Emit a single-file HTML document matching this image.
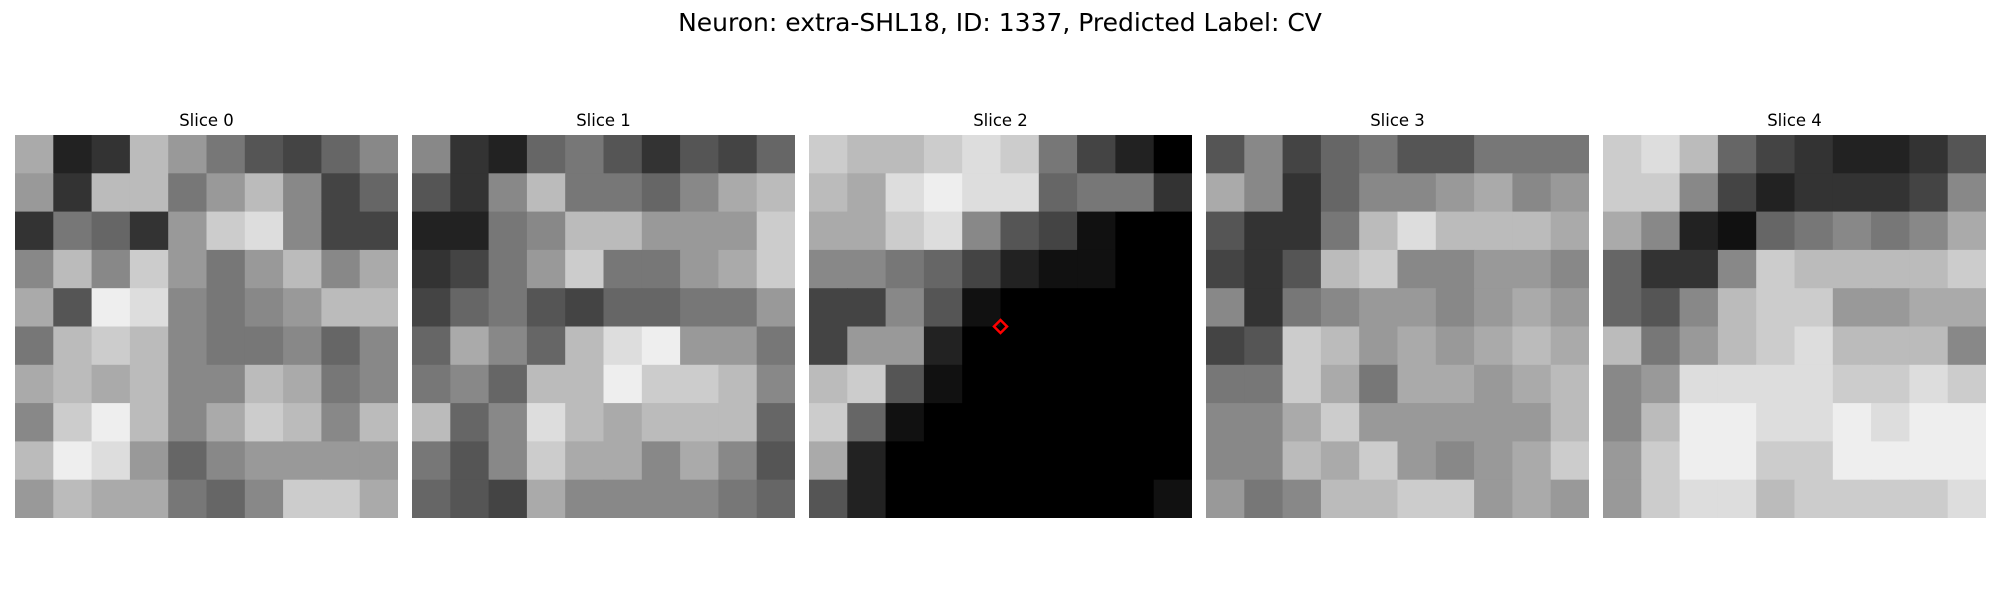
<!DOCTYPE html>
<html><head><meta charset="utf-8"><style>
html,body{margin:0;padding:0;background:#fff;width:2000px;height:600px;overflow:hidden}
svg{display:block;font-family:"DejaVu Sans","Liberation Sans",sans-serif}
</style></head><body>
<svg id="fig" width="2000" height="600">
<text x="1000" y="31" text-anchor="middle" font-size="25" fill="#000">Neuron: extra-SHL18, ID: 1337, Predicted Label: CV</text>
</svg>
<script>
const sliceNames = ["Slice 0","Slice 1","Slice 2","Slice 3","Slice 4"];
const slice0 = ["a23b975468","93bb79b846","37639cd844","8b8c979b8a","a5ed8789bb","7bcb877868","abab88ba78","8ceb8acb8b","bed9689999","9baa768cca"];
const slice1 = ["8326753546","538b7768ab","2278bb999c","3479c779ac","4675466779","6a86bde997","786bbeccb8","b68dbabbb6","758caa8a85","654a888876"];
const slice2 = ["cbbcdc7420","badedd6773","aacd854100","8876421100","4485100000","4992000000","bc51000000","c610000000","a200000000","5200000001"];
const slice3 = ["5846755777","a836889a89","5337bdbbba","435bc88998","83789989a9","45cb9a9aba","77ca7aa9ab","88ac99999b","88bac989ac","978bbcc9a9"];
const slice4 = ["cdb6432235","cc84233348","a82167878a","6338cbbbbc","658bcc99aa","b79bcdbbb8","89ddddccdc","8beeddedee","9ceecceeee","9cddbccccd"];
const slices = [slice0,slice1,slice2,slice3,slice4];
const markerSlice = [2];
const markerPos = [[0.5,0.5]];

const NS="http://www.w3.org/2000/svg";
const svg=document.getElementById('fig');
const X0=15, STEP=397, Y0=135, SIZE=383;
function panelX(i){return X0+i*STEP;}
function cellX(i,c,n){return panelX(i)+c*SIZE/n;}
function cellY(r,n){return Y0+r*SIZE/n;}
slices.forEach((grid,i)=>{
  const g=document.createElementNS(NS,'g');
  
  
  const n=grid.length;
  grid.forEach((row,r)=>{
    for(let c=0;c<row.length;c++){
      const v=parseInt(row[c],16)*17;
      const rect=document.createElementNS(NS,'rect');
      
      
      const x=cellX(i,c,row.length), y=cellY(r,n);
      rect.setAttribute('x',x);rect.setAttribute('y',y);
      rect.setAttribute('width',Math.min(SIZE/row.length+0.6, panelX(i)+SIZE-x));
      rect.setAttribute('height',Math.min(SIZE/n+0.6, Y0+SIZE-y));
      rect.setAttribute('fill','rgb('+v+','+v+','+v+')');
      g.appendChild(rect);
    }
  });
  svg.appendChild(g);
  const t=document.createElementNS(NS,'text');
  
  
  t.setAttribute('x',panelX(i)+SIZE/2);t.setAttribute('y',126);
  t.setAttribute('text-anchor','middle');t.setAttribute('font-size','16.5');
  t.textContent=sliceNames[i];
  svg.appendChild(t);
});
markerSlice.forEach((s,k)=>{
  const cx=panelX(s)+markerPos[k][0]*SIZE, cy=Y0+markerPos[k][1]*SIZE;
  const p=document.createElementNS(NS,'polygon');
  
  
  p.setAttribute('points',[cx,cy-6.5,cx+6.5,cy,cx,cy+6.5,cx-6.5,cy].join(' '));
  p.setAttribute('fill','none');p.setAttribute('stroke','#ff0000');p.setAttribute('stroke-width','2.5');
  svg.appendChild(p);
});
</script>
</body></html>
